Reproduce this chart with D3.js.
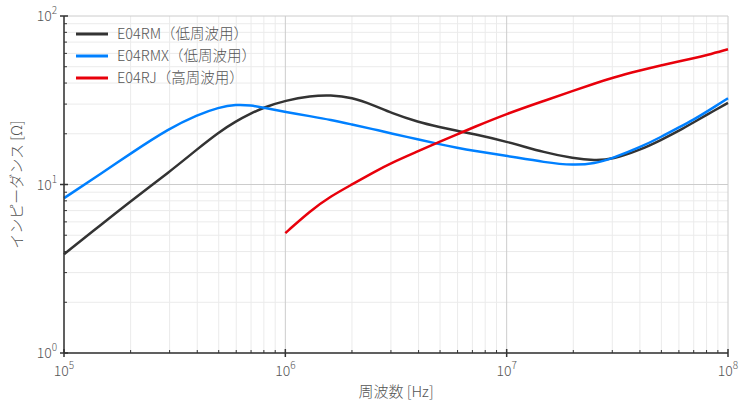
<!DOCTYPE html>
<html>
<head>
<meta charset="utf-8">
<script src="https://d3js.org/d3.v7.min.js"></script>
<style>
  body { margin: 0; background: #fff; }
  text { font-family: "Noto Sans CJK JP", "Noto Sans", sans-serif; fill: #555; font-weight: 300; }
</style>
</head>
<body>
<div id="chart"></div>
<script>
// frequencies [Hz]
var freq = [1e5, 1.5e5, 2e5, 3e5, 4e5, 5e5, 6e5, 7e5, 8e5, 1e6, 1.3e6, 1.6e6, 2e6, 2.5e6,
            3e6, 4e6, 5e6, 6e6, 7e6, 1e7, 1.5e7, 2e7, 2.5e7, 3e7, 4e7, 5e7, 6e7, 7e7, 8e7, 1e8];
// impedance [ohm]
var e04rm  = [3.86, 5.89, 7.95, 11.9, 16.2, 20.4, 23.8, 26.4, 28.7, 31.5, 33.6, 34.0, 32.9, 29.6,
              26.6, 23.4, 21.9, 20.8, 20.0, 18.0, 15.4, 14.3, 13.9, 14.1, 16.0, 18.4, 20.8, 23.4, 25.9, 30.5];
var e04rmx = [8.3, 11.8, 15.3, 21.6, 25.9, 28.7, 29.9, 29.5, 28.5, 27.0, 25.4, 24.2, 22.7, 21.3,
              20.1, 18.5, 17.3, 16.5, 15.9, 14.8, 13.5, 13.0, 13.3, 14.3, 16.6, 19.2, 21.8, 24.3, 27.0, 32.5];
var freqRJ = [1e6, 1.3e6, 1.6e6, 2e6, 2.5e6, 3e6, 4e6, 5e6, 6e6, 7e6, 1e7, 1.5e7, 2e7, 2.5e7,
              3e7, 4e7, 5e7, 6e7, 7e7, 8e7, 1e8];
var e04rj  = [5.15, 7.0, 8.5, 10.0, 11.8, 13.4, 15.8, 18.0, 19.9, 21.7, 26.3, 31.6, 36.0, 39.8,
              43.0, 47.5, 51.0, 53.8, 56.2, 58.5, 63.5];

var seriesNames = ["E04RM（低周波用）", "E04RMX（低周波用）", "E04RJ（高周波用）"];
var seriesColors = ["#333333", "#0080ff", "#e8000b"];

var xTicks = [5, 6, 7, 8];   // exponents
var yTicks = [0, 1, 2];

var W = 750, H = 408;
var margin = {top: 16, right: 22, bottom: 55, left: 64};

var svg = d3.select("#chart").append("svg")
  .attr("width", W).attr("height", H);

var x = d3.scaleLog().domain([1e5, 1e8]).range([margin.left, W - margin.right]);
var y = d3.scaleLog().domain([1, 100]).range([H - margin.bottom, margin.top]);

// minor values
var xMinor = [], yMinor = [];
for (var e = 5; e < 8; e++) for (var k = 2; k < 10; k++) xMinor.push(k * Math.pow(10, e));
for (var e2 = 0; e2 < 2; e2++) for (var k2 = 2; k2 < 10; k2++) yMinor.push(k2 * Math.pow(10, e2));

var grid = svg.append("g");
grid.selectAll(".xm").data(xMinor).enter().append("line")
  .attr("x1", d => x(d)).attr("x2", d => x(d))
  .attr("y1", y(1)).attr("y2", y(100))
  .attr("stroke", "#ebebeb").attr("stroke-width", 1);
grid.selectAll(".ym").data(yMinor).enter().append("line")
  .attr("y1", d => y(d)).attr("y2", d => y(d))
  .attr("x1", x(1e5)).attr("x2", x(1e8))
  .attr("stroke", "#ebebeb").attr("stroke-width", 1);
grid.selectAll(".xM").data(xTicks).enter().append("line")
  .attr("x1", d => x(Math.pow(10, d))).attr("x2", d => x(Math.pow(10, d)))
  .attr("y1", y(1)).attr("y2", y(100))
  .attr("stroke", "#cccccc").attr("stroke-width", 1);
grid.selectAll(".yM").data(yTicks).enter().append("line")
  .attr("y1", d => y(Math.pow(10, d))).attr("y2", d => y(Math.pow(10, d)))
  .attr("x1", x(1e5)).attr("x2", x(1e8))
  .attr("stroke", "#cccccc").attr("stroke-width", 1);

// curves (B-spline smooths the hand-read points)
var line = d3.line().x(d => x(d[0])).y(d => y(d[1])).curve(d3.curveBasis);
var data = [
  d3.zip(freq, e04rm),
  d3.zip(freq, e04rmx),
  d3.zip(freqRJ, e04rj)
];
svg.append("g").selectAll("path").data(data).enter().append("path")
  .attr("d", line)
  .attr("fill", "none")
  .attr("stroke", (d, i) => seriesColors[i])
  .attr("stroke-width", 2.5);

// axes lines
var ax = svg.append("g").attr("stroke", "#333");
ax.append("line").attr("x1", x(1e5)).attr("x2", x(1e5))
  .attr("y1", y(100)).attr("y2", y(1)).attr("stroke-width", 1.5);
ax.append("line").attr("x1", x(1e5)).attr("x2", x(1e8))
  .attr("y1", y(1)).attr("y2", y(1)).attr("stroke-width", 1.5);
// ticks
ax.selectAll(".tx").data(xMinor).enter().append("line")
  .attr("x1", d => x(d)).attr("x2", d => x(d))
  .attr("y1", y(1)).attr("y2", y(1) - 3).attr("stroke-width", 1);
ax.selectAll(".ty").data(yMinor).enter().append("line")
  .attr("y1", d => y(d)).attr("y2", d => y(d))
  .attr("x1", x(1e5)).attr("x2", x(1e5) + 3).attr("stroke-width", 1);
ax.selectAll(".tX").data(xTicks).enter().append("line")
  .attr("x1", d => x(Math.pow(10, d))).attr("x2", d => x(Math.pow(10, d)))
  .attr("y1", y(1) + 4).attr("y2", y(1) - 4).attr("stroke-width", 1.5);
ax.selectAll(".tY").data(yTicks).enter().append("line")
  .attr("y1", d => y(Math.pow(10, d))).attr("y2", d => y(Math.pow(10, d)))
  .attr("x1", x(1e5) - 4).attr("x2", x(1e5) + 4).attr("stroke-width", 1.5);

// tick labels
function pow10(sel) {
  sel.append("tspan").text("10").attr("font-size", 14);
  sel.append("tspan").text(d => d).attr("font-size", 10).attr("dy", -7);
}
svg.selectAll(".xl").data(xTicks).enter().append("text")
  .attr("x", d => x(Math.pow(10, d)))
  .attr("y", y(1) + 23)
  .attr("text-anchor", "middle")
  .call(pow10);
svg.selectAll(".yl").data(yTicks).enter().append("text")
  .attr("x", x(1e5) - 7)
  .attr("y", d => y(Math.pow(10, d)) + 5)
  .attr("text-anchor", "end")
  .call(pow10);

// axis titles
svg.append("text")
  .attr("x", (x(1e5) + x(1e8)) / 2).attr("y", H - 11)
  .attr("text-anchor", "middle").attr("font-size", 15)
  .text("周波数 [Hz]");
svg.append("text")
  .attr("transform", "translate(22," + ((y(1) + y(100)) / 2) + ") rotate(-90)")
  .attr("text-anchor", "middle").attr("font-size", 15)
  .text("インピーダンス [Ω]");

// legend
var leg = svg.append("g").attr("transform", "translate(76,34)");
seriesNames.forEach(function (name, i) {
  var g = leg.append("g").attr("transform", "translate(0," + (i * 22) + ")");
  g.append("line").attr("x1", 0).attr("x2", 32).attr("y1", 0).attr("y2", 0)
    .attr("stroke", seriesColors[i]).attr("stroke-width", 3);
  g.append("text").attr("x", 41).attr("y", 5).attr("font-size", 14.5).text(name);
});
</script>
</body>
</html>
